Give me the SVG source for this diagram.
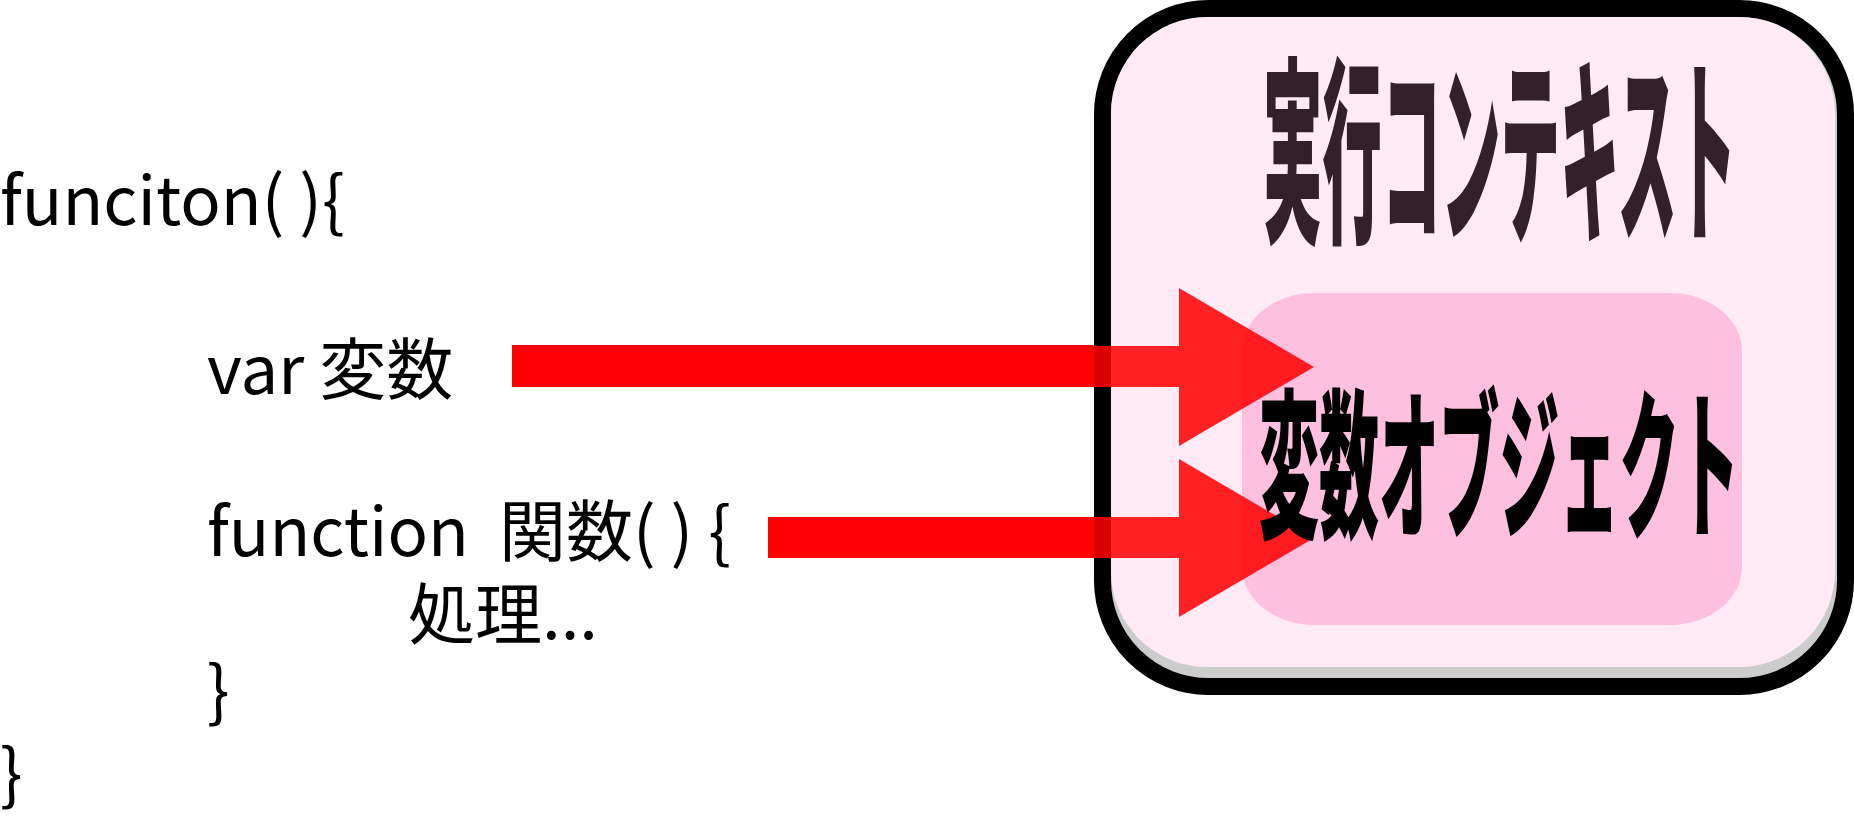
<svg xmlns="http://www.w3.org/2000/svg" width="1854" height="829" viewBox="0 0 1854 829">
<style>
.code{font-family:"Noto Sans CJK JP","Noto Sans",sans-serif;font-size:67px;fill:#000}
.title{font-family:"Noto Sans CJK JP",sans-serif;font-weight:900;fill:#34202b}
.sub{font-family:"Noto Sans CJK JP",sans-serif;font-weight:900;fill:#000}
.shaft{fill:#ff0000}
.head{fill:#ff0000;fill-opacity:0.86}
</style>
<rect width="1854" height="829" fill="#fff"/>
<g id="execution-context">
<rect x="1102.5" y="8.5" width="743" height="678" rx="106" ry="106" fill="#cccccc" stroke="#000" stroke-width="17"/>
<rect x="1111" y="17" width="724" height="650" rx="96" ry="96" fill="#ffeaf5"/>
<text class="title" font-size="200" transform="translate(1263,227) scale(0.297,1)">実行コンテキスト</text>
</g>
<g id="variable-object-box">
<rect x="1242" y="293" width="500" height="332" rx="72" ry="58" fill="#ffc0df"/>
</g>
<g id="connectors">
<rect class="shaft" x="512" y="345" width="582" height="42"/>
<polygon class="head" points="1094,346 1179,346 1179,288 1314,367 1179,446 1179,387 1094,387"/>
<rect class="shaft" x="768" y="517" width="326" height="41"/>
<polygon class="head" points="1094,517 1179,517 1179,459 1314,538 1179,617 1179,558 1094,558"/>
</g>
<g id="variable-object-label">
<text class="sub" font-size="161" transform="translate(1259,526) scale(0.373,1)">変数オブジェクト</text>
</g>
<g id="code">
<text class="code" x="0" y="225">funciton( ){</text>
<text class="code" x="207" y="394">var 変数</text>
<text class="code" x="207" y="556" xml:space="preserve">function  関数( ) {</text>
<text class="code" x="408" y="639">処理...</text>
<text class="code" x="207" y="715">}</text>
<text class="code" x="0" y="798">}</text>
</g>
</svg>
